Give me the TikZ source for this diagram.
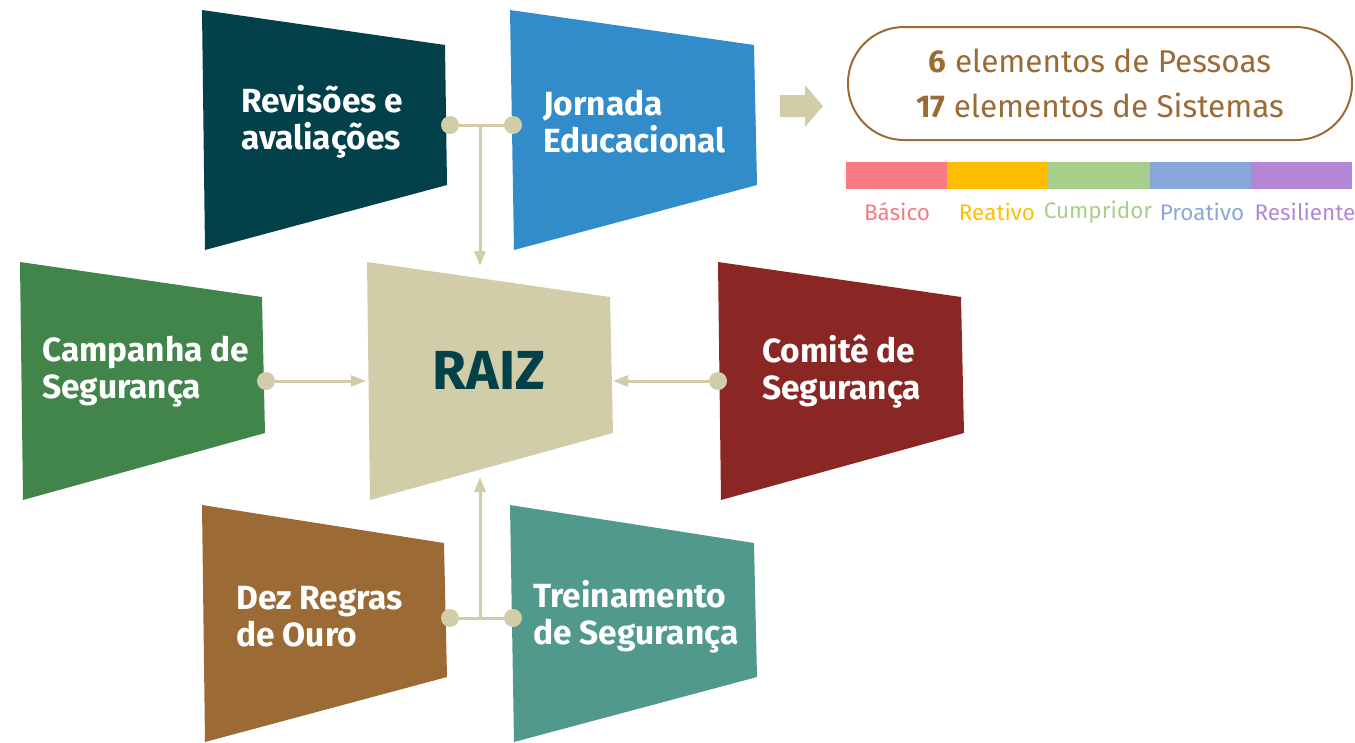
\documentclass[tikz,border=0pt]{standalone}
\usepackage{fontspec}
\setmainfont{Fira Sans}
\usetikzlibrary{arrows.meta}

\definecolor{revc}{RGB}{2,64,74}
\definecolor{jorc}{RGB}{50,140,202}
\definecolor{camc}{RGB}{66,133,74}
\definecolor{raizc}{RGB}{208,205,168}
\definecolor{comc}{RGB}{138,38,35}
\definecolor{dezc}{RGB}{156,107,53}
\definecolor{trec}{RGB}{82,153,141}
\definecolor{basc}{RGB}{248,122,132}
\definecolor{reac}{RGB}{255,191,0}
\definecolor{cumc}{RGB}{166,207,138}
\definecolor{proc}{RGB}{138,167,219}
\definecolor{resc}{RGB}{180,135,214}

\begin{document}
\begin{tikzpicture}[x=1pt,y=1pt,yscale=-1,xscale=1,
    dot/.style={circle,fill=raizc,inner sep=0pt,minimum size=18pt},
    link/.style={draw=raizc,line width=3pt},
    tip/.style={-{Triangle[length=15pt,width=11pt]}},
    boxtext/.style={text=white,font=\bfseries\fontsize{33.5}{37}\selectfont,align=left,anchor=west,inner sep=0pt},
    levtext/.style={font=\fontsize{22.5}{24}\selectfont,inner sep=0pt}]
    \useasboundingbox (0,0) rectangle (1355,742);

    %Shapes: the seven blocks
    \fill [revc] (202,10) -- (445,45) -- (447,185) -- (205,250) -- cycle;
    \fill [jorc] (510,10) -- (754,45) -- (757,185) -- (514,250) -- cycle;
    \fill [camc] (20,262) -- (262,297) -- (265,433) -- (23,500) -- cycle;
    \fill [raizc] (367,262) -- (610,297) -- (613,433) -- (370,500) -- cycle;
    \fill [comc] (718,262) -- (961,297) -- (964,433) -- (721,500) -- cycle;
    \fill [dezc] (202,505) -- (444,543) -- (447,677) -- (205,742) -- cycle;
    \fill [trec] (510,505) -- (754,543) -- (757,677) -- (514,742) -- cycle;

    %Text
    \node [boxtext] (rev) at (241,122) {Revisões e\\avaliações};
    \node [boxtext] (jor) at (543,122) {Jornada\\Educacional};
    \node [boxtext] (cam) at (42,372) {Campanha de\\Segurança};
    \node [text=revc,font=\bfseries\fontsize{55}{60}\selectfont,inner sep=0pt] (raiz) at (489,370) {RAIZ};
    \node [boxtext] (com) at (762,372) {Comitê de\\Segurança};
    \node [boxtext] (dez) at (236,617) {Dez Regras\\de Ouro};
    \node [boxtext] (tre) at (533,617) {Treinamento\\de Segurança};

    %Dots
    \node [dot] (d1) at (450,125) {};
    \node [dot] (d2) at (513,125) {};
    \node [dot] (d3) at (266,381) {};
    \node [dot] (d4) at (718,381) {};
    \node [dot] (d5) at (450,618) {};
    \node [dot] (d6) at (513,618) {};
    \coordinate (top) at (480,125);
    \coordinate (bot) at (480,618);
    \coordinate (rtop) at (480,266);
    \coordinate (rbot) at (480,477);
    \coordinate (rleft) at (366,381);
    \coordinate (rright) at (613,381);

    %Straight Lines
    \draw [link] (d1) -- (d2);
    \draw [link,tip] (top) -- (rtop);
    \draw [link,tip] (d3) -- (rleft);
    \draw [link,tip] (d4) -- (rright);
    \draw [link] (d5) -- (d6);
    \draw [link,tip] (bot) -- (rbot);

    %Shape: block arrow
    \fill [raizc] (780,95) -- (805,95) -- (805,85) -- (823,106) -- (805,127) -- (805,117) -- (780,117) -- cycle;

    %Rounded box
    \node [draw=dezc,line width=2pt,rounded corners=56pt,minimum width=504pt,minimum height=113pt,
        text=dezc,font=\fontsize{31.5}{45}\selectfont,align=center] (count) at (1100,83.5)
        {\textbf{6} elementos de Pessoas\\\textbf{17} elementos de Sistemas};

    %Levels
    \foreach \c [count=\i] in {basc,reac,cumc,proc,resc}
        \fill [\c] ({846+(\i-1)*101.2},162) rectangle ++(101.2,27);
    \node [levtext,text=basc] (bas) at (897,212) {Básico};
    \node [levtext,text=reac] (rea) at (997,212) {Reativo};
    \node [levtext,text=cumc] (cum) at (1098,212) {Cumpridor};
    \node [levtext,text=proc] (pro) at (1202,212) {Proativo};
    \node [levtext,text=resc] (res) at (1305,212) {Resiliente};

\end{tikzpicture}
\end{document}
